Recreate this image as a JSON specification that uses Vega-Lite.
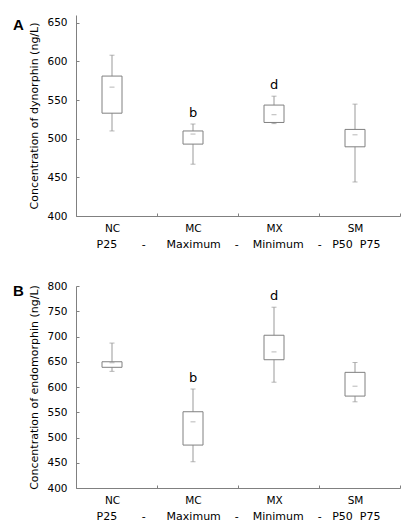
{
  "$schema": "https://vega.github.io/schema/vega-lite/v6.json",
  "background": "white",
  "padding": {"left": 13, "top": 15, "right": 5, "bottom": 5},
  "spacing": 31,
  "config": {
    "view": {"stroke": null},
    "font": "DejaVu Sans",
    "axis": {
      "labelFont": "DejaVu Sans",
      "titleFont": "DejaVu Sans",
      "labelFontSize": 10.5,
      "titleFontSize": 11,
      "titleFontWeight": "normal",
      "labelColor": "#000",
      "titleColor": "#000",
      "domainColor": "#808080",
      "tickColor": "#808080",
      "labelOverlap": false,
      "grid": false
    },
    "title": {"font": "Liberation Sans", "fontSize": 15, "fontWeight": "bold", "anchor": "start", "frame": "group", "color": "#000"}
  },
  "datasets": {
    "dyn": [
      {"group": "NC", "min": 510, "q1": 533, "median": 566.7, "q3": 581, "max": 608, "letter": ""},
      {"group": "MC", "min": 467, "q1": 493, "median": 506, "q3": 510, "max": 519, "letter": "b"},
      {"group": "MX", "min": 519.5, "q1": 521, "median": 531, "q3": 543.5, "max": 555, "letter": "d"},
      {"group": "SM", "min": 444, "q1": 489.5, "median": 505, "q3": 512, "max": 544.7, "letter": ""}
    ],
    "endo": [
      {"group": "NC", "min": 631, "q1": 639, "median": 648, "q3": 650, "max": 687, "letter": ""},
      {"group": "MC", "min": 452, "q1": 485, "median": 531, "q3": 551, "max": 596, "letter": "b"},
      {"group": "MX", "min": 609.5, "q1": 654, "median": 669.5, "q3": 702.5, "max": 758, "letter": "d"},
      {"group": "SM", "min": 570.7, "q1": 582, "median": 601.6, "q3": 629, "max": 648.5, "letter": ""}
    ]
  },
  "vconcat": [
    {
      "width": 324,
      "height": 201,
      "title": {"text": "A", "dx": -63, "dy": 22},
      "data": {"name": "dyn"},
      "encoding": {
        "x": {
          "field": "group", "type": "nominal", "sort": ["NC", "MC", "MX", "SM"],
          "scale": {"paddingInner": 0, "paddingOuter": 0},
          "axis": {
            "labelAngle": 0, "tickBand": "extent", "tickSize": -3, "labelOffset": -4.5, "labelPadding": 10,
            "title": "P25\u00a0\u00a0\u00a0\u00a0\u00a0\u00a0\u00a0-\u00a0\u00a0\u00a0\u00a0\u00a0\u00a0Maximum\u00a0\u00a0\u00a0\u00a0-\u00a0\u00a0\u00a0\u00a0Minimum\u00a0\u00a0\u00a0\u00a0-\u00a0\u00a0\u00a0P50\u00a0\u00a0P75",
            "titlePadding": 5
          }
        }
      },
      "layer": [
        {
          "mark": {"type": "rule", "color": "#999", "xOffset": -4.5},
          "encoding": {
            "y": {"field": "min", "type": "quantitative", "scale": {"domain": [400, 650]}, "axis": {"values": [400, 450, 500, 550, 600, 650], "labelOverlap": false, "tickSize": -3, "labelPadding": 12, "titlePadding": 7, "title": "Concentration of dynorphin (ng/L)"}},
            "y2": {"field": "max"}
          }
        },
        {
          "mark": {"type": "bar", "fill": "white", "stroke": "#808080", "strokeWidth": 1, "size": 20, "xOffset": -4.5},
          "encoding": {"y": {"field": "q1", "type": "quantitative", "axis": {"values": [400, 450, 500, 550, 600, 650], "labelOverlap": false, "tickSize": -3, "labelPadding": 12, "titlePadding": 7, "title": "Concentration of dynorphin (ng/L)"}}, "y2": {"field": "q3"}}
        },
        {
          "mark": {"type": "tick", "color": "#999", "size": 5, "thickness": 1, "xOffset": -4.5},
          "encoding": {"y": {"field": "median", "type": "quantitative", "axis": {"values": [400, 450, 500, 550, 600, 650], "labelOverlap": false, "tickSize": -3, "labelPadding": 12, "titlePadding": 7, "title": "Concentration of dynorphin (ng/L)"}}}
        },
        {
          "mark": {"type": "tick", "color": "#999", "size": 5, "thickness": 1, "xOffset": -4.5},
          "encoding": {"y": {"field": "min", "type": "quantitative", "axis": {"values": [400, 450, 500, 550, 600, 650], "labelOverlap": false, "tickSize": -3, "labelPadding": 12, "titlePadding": 7, "title": "Concentration of dynorphin (ng/L)"}}}
        },
        {
          "mark": {"type": "tick", "color": "#999", "size": 5, "thickness": 1, "xOffset": -4.5},
          "encoding": {"y": {"field": "max", "type": "quantitative", "axis": {"values": [400, 450, 500, 550, 600, 650], "labelOverlap": false, "tickSize": -3, "labelPadding": 12, "titlePadding": 7, "title": "Concentration of dynorphin (ng/L)"}}}
        },
        {
          "mark": {"type": "text", "font": "DejaVu Sans", "fontSize": 13, "baseline": "alphabetic", "dy": -7, "xOffset": -4.5, "color": "#000"},
          "encoding": {"y": {"field": "max", "type": "quantitative", "axis": {"values": [400, 450, 500, 550, 600, 650], "labelOverlap": false, "tickSize": -3, "labelPadding": 12, "titlePadding": 7, "title": "Concentration of dynorphin (ng/L)"}}, "text": {"field": "letter"}}
        }
      ]
    },
    {
      "width": 324,
      "height": 202,
      "title": {"text": "B", "dx": -63, "dy": 22},
      "data": {"name": "endo"},
      "encoding": {
        "x": {
          "field": "group", "type": "nominal", "sort": ["NC", "MC", "MX", "SM"],
          "scale": {"paddingInner": 0, "paddingOuter": 0},
          "axis": {
            "labelAngle": 0, "tickBand": "extent", "tickSize": -3, "labelOffset": -4.5, "labelPadding": 10,
            "title": "P25\u00a0\u00a0\u00a0\u00a0\u00a0\u00a0\u00a0-\u00a0\u00a0\u00a0\u00a0\u00a0\u00a0Maximum\u00a0\u00a0\u00a0\u00a0-\u00a0\u00a0\u00a0\u00a0Minimum\u00a0\u00a0\u00a0\u00a0-\u00a0\u00a0\u00a0P50\u00a0\u00a0P75",
            "titlePadding": 5
          }
        }
      },
      "layer": [
        {
          "mark": {"type": "rule", "color": "#999", "xOffset": -4.5},
          "encoding": {
            "y": {"field": "min", "type": "quantitative", "scale": {"domain": [400, 800]}, "axis": {"values": [400, 450, 500, 550, 600, 650, 700, 750, 800], "labelOverlap": false, "tickSize": -3, "labelPadding": 12, "titlePadding": 7, "title": "Concentration of endomorphin (ng/L)"}},
            "y2": {"field": "max"}
          }
        },
        {
          "mark": {"type": "bar", "fill": "white", "stroke": "#808080", "strokeWidth": 1, "size": 20, "xOffset": -4.5},
          "encoding": {"y": {"field": "q1", "type": "quantitative", "axis": {"values": [400, 450, 500, 550, 600, 650, 700, 750, 800], "labelOverlap": false, "tickSize": -3, "labelPadding": 12, "titlePadding": 7, "title": "Concentration of endomorphin (ng/L)"}}, "y2": {"field": "q3"}}
        },
        {
          "mark": {"type": "tick", "color": "#999", "size": 5, "thickness": 1, "xOffset": -4.5},
          "encoding": {"y": {"field": "median", "type": "quantitative", "axis": {"values": [400, 450, 500, 550, 600, 650, 700, 750, 800], "labelOverlap": false, "tickSize": -3, "labelPadding": 12, "titlePadding": 7, "title": "Concentration of endomorphin (ng/L)"}}}
        },
        {
          "mark": {"type": "tick", "color": "#999", "size": 5, "thickness": 1, "xOffset": -4.5},
          "encoding": {"y": {"field": "min", "type": "quantitative", "axis": {"values": [400, 450, 500, 550, 600, 650, 700, 750, 800], "labelOverlap": false, "tickSize": -3, "labelPadding": 12, "titlePadding": 7, "title": "Concentration of endomorphin (ng/L)"}}}
        },
        {
          "mark": {"type": "tick", "color": "#999", "size": 5, "thickness": 1, "xOffset": -4.5},
          "encoding": {"y": {"field": "max", "type": "quantitative", "axis": {"values": [400, 450, 500, 550, 600, 650, 700, 750, 800], "labelOverlap": false, "tickSize": -3, "labelPadding": 12, "titlePadding": 7, "title": "Concentration of endomorphin (ng/L)"}}}
        },
        {
          "mark": {"type": "text", "font": "DejaVu Sans", "fontSize": 13, "baseline": "alphabetic", "dy": -7, "xOffset": -4.5, "color": "#000"},
          "encoding": {"y": {"field": "max", "type": "quantitative", "axis": {"values": [400, 450, 500, 550, 600, 650, 700, 750, 800], "labelOverlap": false, "tickSize": -3, "labelPadding": 12, "titlePadding": 7, "title": "Concentration of endomorphin (ng/L)"}}, "text": {"field": "letter"}}
        }
      ]
    }
  ]
}
